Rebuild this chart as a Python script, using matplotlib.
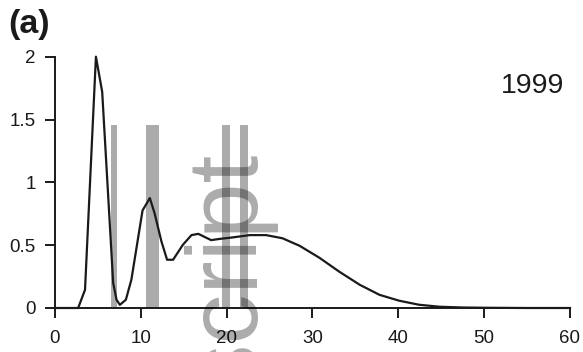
import matplotlib
matplotlib.use("Agg")
import matplotlib.pyplot as plt

plt.rcParams['font.family'] = ['Liberation Sans', 'DejaVu Sans']

# curve
x_vals = [0, 2.7, 3.5, 4.77, 5.5, 6.78, 7.17, 7.56, 8.26, 8.9, 10.2, 11.05, 11.6,
          12.4, 13.06, 13.76, 14.9, 15.9, 16.7, 18.2, 19.2, 20.5, 22.7, 24.6,
          26.5, 28.5, 30.8, 33.1, 35.5, 37.8, 40.1, 42.4, 44.8, 47.5, 50, 55, 60]
y_vals = [0, 0, 0.145, 2.0, 1.72, 0.2, 0.066, 0.025, 0.066, 0.225, 0.776, 0.875, 0.755,
          0.53, 0.384, 0.384, 0.503, 0.58, 0.59, 0.54, 0.55, 0.56, 0.58, 0.58,
          0.555, 0.495, 0.40, 0.29, 0.185, 0.105, 0.058, 0.026, 0.01, 0.004, 0.002, 0, 0]

# gray marker bands
bar_start = [6.47, 10.58, 19.5, 21.6]
bar_end = [7.28, 12.13, 20.35, 22.5]
bar_top = 1.46

x_ticks = [0, 10, 20, 30, 40, 50, 60]
y_ticks = [0, 0.5, 1, 1.5, 2]
y_labels = ['0', '0.5', '1', '1.5', '2']

fig = plt.figure(figsize=(5.83, 3.52), dpi=100)
ax = fig.add_axes([0.0943, 0.125, 0.8834, 0.714])

for a, b in zip(bar_start, bar_end):
    ax.bar((a + b) / 2, bar_top, width=b - a, color='black', alpha=0.33,
           linewidth=0, zorder=1)

ax.plot(x_vals, y_vals, color='#1a1a1a', lw=1.6, zorder=3, clip_on=False)

ax.set_xlim(0, 60)
ax.set_ylim(0, 2)
ax.set_xticks(x_ticks)
ax.set_yticks(y_ticks)
ax.set_yticklabels(y_labels)
for s in ['top', 'right']:
    ax.spines[s].set_visible(False)
for s in ['left', 'bottom']:
    ax.spines[s].set_linewidth(1.4)
    ax.spines[s].set_color('#1a1a1a')
ax.tick_params(axis='both', direction='out', length=7, width=1.4,
               colors='#1a1a1a', labelsize=13.5)
ax.tick_params(axis='x', pad=9)
ax.tick_params(axis='y', pad=7)

ax.text(59.3, 1.71, '1999', ha='right', va='baseline', fontsize=20.5,
        color='#1a1a1a')
fig.text(0.014, 0.906, '(a)', fontsize=24.5, fontweight='bold', color='#1a1a1a',
         va='baseline', ha='left')

# watermark
fig.text(258 / 583, 1 - 155 / 352, 'Author Manuscript', rotation=90,
         rotation_mode='anchor', ha='right', va='baseline', fontsize=72,
         color='black', alpha=0.33, zorder=0)

fig.savefig('out.png', dpi=100)
